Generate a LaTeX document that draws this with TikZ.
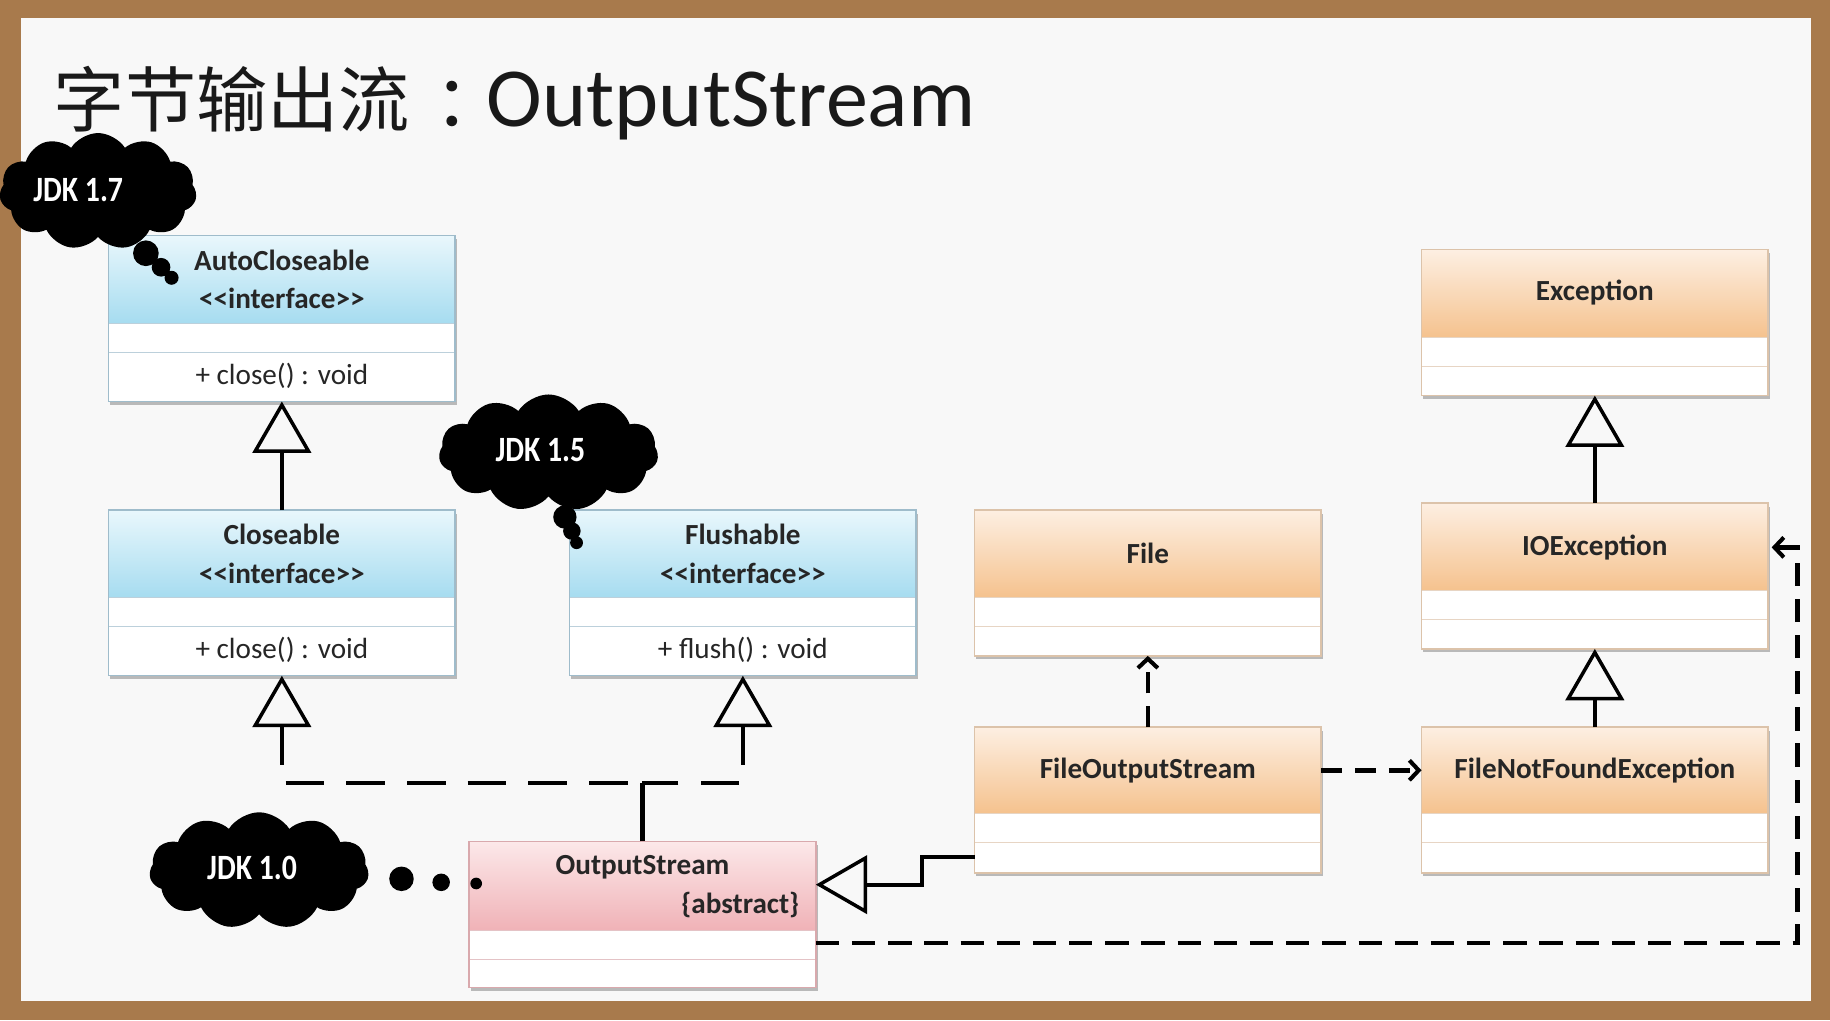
\documentclass[tikz,border=0pt]{standalone}
\usepackage{fontspec}
\setmainfont{Carlito}
\newfontfamily\cjk{Noto Sans CJK SC}
\usetikzlibrary{arrows.meta,calc,shapes.symbols,shadows}
\definecolor{wood}{HTML}{A87A4C}
\definecolor{paper}{HTML}{F8F8F8}
\definecolor{blueT}{HTML}{E9F7FC}
\definecolor{blueB}{HTML}{A6DCF0}
\definecolor{blueL}{HTML}{9FBCCB}
\definecolor{orT}{HTML}{FDEFE2}
\definecolor{orB}{HTML}{F5C28E}
\definecolor{orL}{HTML}{DCC3AA}
\definecolor{pkT}{HTML}{FCE8E9}
\definecolor{pkB}{HTML}{F0B2B7}
\definecolor{pkL}{HTML}{D9A9AD}
\definecolor{ink}{HTML}{262626}
% #1 name, #2 x, #3 y, #4 total height, #5 header height, #6 top colour, #7 bottom colour, #8 border colour
\newcommand{\umlbox}[8]{%
  \node[classframe, draw=#8, minimum height=#4pt, anchor=north west] (#1) at (#2,#3) {};
  \shade[top color=#6, bottom color=#7] (#1.north west) rectangle ($(#1.north east)+(0,#5)$);
  \draw[#8!70, line width=1pt] ($(#1.north west)+(0,#5)$) -- ($(#1.north east)+(0,#5)$);
  \draw[#8!70, line width=1pt] ($(#1.north west)+(0,#5+25)$) -- ($(#1.north east)+(0,#5+25)$);
  \draw[#8, line width=1.2pt] (#1.north west) rectangle (#1.south east);
}
\newcommand{\jdklabel}[1]{\scalebox{1.02}[1.22]{#1}}
\begin{document}
\begin{tikzpicture}[x=1pt,y=-1pt,
  classframe/.style={rectangle, fill=white, line width=1.2pt, minimum width=297pt, inner sep=0pt, outer sep=0pt,
    drop shadow={shadow xshift=1.5pt, shadow yshift=-3pt, opacity=0.25, fill=black}},
  clsname/.style={font=\fontsize{25}{30}\selectfont\bfseries, text=ink, inner sep=0pt},
  clsop/.style={font=\fontsize{25}{30}\selectfont, text=ink, inner sep=0pt},
  gen/.style={line width=3.5pt, -{Triangle[open, length=44pt, width=50pt, line width=3pt]}},
  realr/.style={line width=4pt, dash pattern=on 33pt off 19pt, {Triangle[open, length=44pt, width=50pt, line width=3pt]}-},
  dep/.style={line width=4pt, dash pattern=on 18pt off 11pt, -{Straight Barb[length=8pt, width=17pt, line width=3.5pt]}},
  depb/.style={line width=4pt, dash pattern=on 20pt off 11pt, -{Straight Barb[length=8pt, width=17pt, line width=3.5pt]}},
  jdkcloud/.style={cloud, cloud puffs=11, cloud puff arc=115, aspect=1.8, fill=black, draw=none, inner sep=0pt},
  jdktext/.style={font=\fontsize{25}{30}\selectfont\bfseries, text=white, inner sep=0pt},
  bubble/.style={fill=black}
]
\useasboundingbox (0,0) rectangle (1568,874);
% frame
\fill[wood] (0,0) rectangle (1568,874);
\fill[paper] (18,15) rectangle (1552,858);

% title
\node[anchor=base west, inner sep=0pt, text=black!90] (title) at (46,108)
  {{\cjk\fontsize{61}{70}\selectfont 字节输出流\hspace{21pt}：\hspace{-16pt}}{\fontsize{72}{80}\selectfont OutputStream}};

% classes
\umlbox{auto}{93}{202}{142}{75}{blueT}{blueB}{blueL}
\umlbox{close}{93}{437}{142}{75}{blueT}{blueB}{blueL}
\umlbox{flush}{488}{437}{142}{75}{blueT}{blueB}{blueL}
\umlbox{file}{835}{437}{125}{75}{orT}{orB}{orL}
\umlbox{fos}{835}{623}{125}{74}{orT}{orB}{orL}
\umlbox{exc}{1218}{214}{125}{75}{orT}{orB}{orL}
\umlbox{ioe}{1218}{431}{125}{75}{orT}{orB}{orL}
\umlbox{fnfe}{1218}{623}{125}{74}{orT}{orB}{orL}
\umlbox{os}{402}{721}{125}{76}{pkT}{pkB}{pkL}

% class texts
\node[clsname] (autoN) at ($(auto.north)+(0,21)$) {AutoCloseable};
\node[clsname] (autoS) at ($(auto.north)+(0,54)$) {<{}<interface>{}>};
\node[clsop] (autoM) at ($(auto.north)+(0,120)$) {+ close() : void};
\node[clsname] (closeN) at ($(close.north)+(0,21)$) {Closeable};
\node[clsname] (closeS) at ($(close.north)+(0,54)$) {<{}<interface>{}>};
\node[clsop] (closeM) at ($(close.north)+(0,120)$) {+ close() : void};
\node[clsname] (flushN) at ($(flush.north)+(0,21)$) {Flushable};
\node[clsname] (flushS) at ($(flush.north)+(0,54)$) {<{}<interface>{}>};
\node[clsop] (flushM) at ($(flush.north)+(0,120)$) {+ flush() : void};
\node[clsname] (fileN) at ($(file.north)+(0,37)$) {File};
\node[clsname] (fosN) at ($(fos.north)+(0,37)$) {FileOutputStream};
\node[clsname] (excN) at ($(exc.north)+(0,37)$) {Exception};
\node[clsname] (ioeN) at ($(ioe.north)+(0,38)$) {IOException};
\node[clsname] (fnfeN) at ($(fnfe.north)+(0,37)$) {FileNotFoundException};
\node[clsname] (osN) at ($(os.north)+(0,22)$) {OutputStream};
\node[clsname, anchor=east] (osA) at ($(os.north east)+(-14,54)$) {\{abstract\}};

% connectors
\draw[gen] (close.north) -- (auto.south);
\coordinate (junc) at ($(os.north)+(0,-50)$);
\draw[line width=4pt] (os.north) -- (junc);
\draw[realr] (close.south) |- (junc);
\draw[realr] (flush.south) |- (junc);
\draw[gen] ($(fos.south west)+(0,-14)$) -- ++(-45,0) |- ($(os.north east)+(0,37)$);
\draw[dep] (fos.north) -- (file.south);
\draw[dep] ($(fos.north east)+(0,37)$) -- ($(fnfe.north west)+(0,37)$);
\draw[gen] (ioe.north) -- (exc.south);
\draw[gen] (fnfe.north) -- (ioe.south);
\draw[depb] ($(os.south east)+(0,-38)$) -| ($(ioe.north east)+(25,38)$) -- ($(ioe.north east)+(3,38)$);

% JDK clouds
\node[jdkcloud, minimum width=169pt, minimum height=100pt] (c17) at (84,164) {};
\node[jdktext] (t17) at (67,163) {\jdklabel{JDK 1.7}};
\fill[bubble] (125,217) circle (11);
\fill[bubble] (138,229) circle (8);
\fill[bubble] (147,238) circle (6);

\node[jdkcloud, minimum width=188pt, minimum height=100pt] (c15) at (470,388) {};
\node[jdktext] (t15) at (463,386) {\jdklabel{JDK 1.5}};
\fill[bubble] (484,443) circle (10);
\fill[bubble] (490,455) circle (7.5);
\fill[bubble] (494,465) circle (5.5);

\node[jdkcloud, minimum width=188pt, minimum height=100pt] (c10) at (222,746) {};
\node[jdktext] (t10) at (216,744) {\jdklabel{JDK 1.0}};
\fill[bubble] (344,753) circle (10.5);
\fill[bubble] (378,756) circle (7.5);
\fill[bubble] (408,757) circle (5);
\end{tikzpicture}
\end{document}
